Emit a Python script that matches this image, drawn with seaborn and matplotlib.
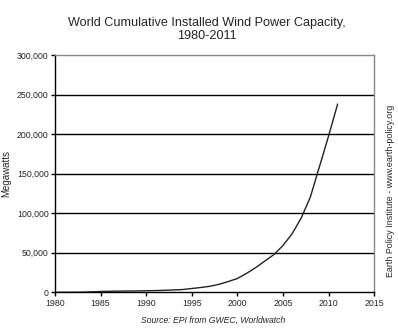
import matplotlib
matplotlib.use("Agg")
import matplotlib.pyplot as plt
import seaborn as sns
import pandas as pd
from matplotlib.ticker import FuncFormatter

years = list(range(1980, 2012))
capacity_mw = [10, 25, 90, 210, 600, 1020, 1270, 1450, 1580, 1730,
               1930, 2170, 2510, 2990, 3490, 4780, 6070, 7640, 10150, 13600,
               17400, 23900, 31100, 39431, 47620, 59091, 74052, 93820, 120291, 158864,
               197637, 238351]
x_ticks = [1980, 1985, 1990, 1995, 2000, 2005, 2010, 2015]
y_ticks = [0, 50000, 100000, 150000, 200000, 250000, 300000]

df = pd.DataFrame({"Year": years, "Megawatts": capacity_mw})

sns.set_theme(style="white")
plt.rcParams["font.family"] = ["Liberation Sans", "DejaVu Sans"]

fig = plt.figure(figsize=(3.98, 3.32), dpi=100)
ax = fig.add_axes([0.138, 0.1196, 0.802, 0.7138])

# horizontal reference lines
for v in y_ticks[1:-1]:
    ax.axhline(v, color="black", lw=1.0, zorder=1)

sns.lineplot(data=df, x="Year", y="Megawatts", ax=ax, color="#222222", lw=1.0, zorder=3)

ax.set_xlim(1980, 2015)
ax.set_ylim(0, 300000)
ax.set_xticks(x_ticks)
ax.set_yticks(y_ticks)
ax.yaxis.set_major_formatter(FuncFormatter(lambda v, p: f"{int(v):,}"))
ax.tick_params(axis="both", which="major", labelsize=6.3, length=3, width=1,
               color="black", direction="out", pad=1.5, left=True, bottom=True)
ax.set_xlabel("")
ax.set_ylabel("Megawatts", fontsize=7, labelpad=4)

for side in ["left", "bottom"]:
    ax.spines[side].set_color("black")
    ax.spines[side].set_linewidth(1.0)
for side in ["top", "right"]:
    ax.spines[side].set_color("#888888")
    ax.spines[side].set_linewidth(1.0)

fig.text(0.52, 0.948, "World Cumulative Installed Wind Power Capacity,\n1980-2011",
         ha="center", va="top", fontsize=9.1, linespacing=1.1)
fig.text(0.535, 0.035, "Source: EPI from GWEC, Worldwatch",
         ha="center", va="center", fontsize=6.2, style="italic")
fig.text(0.981, 0.425, "Earth Policy Institute - www.earth-policy.org",
         ha="center", va="center", rotation=90, fontsize=6.4)

fig.savefig("out.png", dpi=100, facecolor="white")
